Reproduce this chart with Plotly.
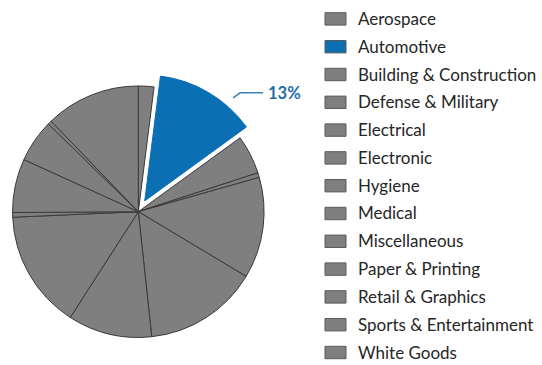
import math
import plotly.graph_objects as go

# Market share by end-use sector (%)
labels = [
    "Aerospace", "Automotive", "Building & Construction", "Defense & Military",
    "Electrical", "Electronic", "Hygiene", "Medical", "Miscellaneous",
    "Paper & Printing", "Retail & Graphics", "Sports & Entertainment", "White Goods",
]
shares = [2.0, 13.0, 5.0, 0.6, 13.0, 14.7, 10.8, 15.2, 0.6, 6.9, 5.5, 0.5, 12.2]
highlight = "Automotive"

W, H = 542, 365
GRAY = "#7f7f7f"
BLUE = "#0a6fb3"
EDGE = "#3a3a3a"
PULL = 0.1

colors = [BLUE if lab == highlight else GRAY for lab in labels]
edges = [BLUE if lab == highlight else EDGE for lab in labels]
pulls = [PULL if lab == highlight else 0 for lab in labels]

dom_x = [0.0, 0.5104]
dom_y = [0.041, 0.799]

fig = go.Figure(go.Pie(
    labels=labels,
    values=shares,
    sort=False,
    direction="clockwise",
    rotation=0,
    pull=pulls,
    marker=dict(colors=colors, line=dict(color=edges, width=1)),
    textinfo="none",
    hoverinfo="label+percent",
    showlegend=False,
    domain=dict(x=dom_x, y=dom_y),
))

# pie geometry in pixels (same rule plotly uses to size the pie)
cx = W * (dom_x[0] + dom_x[1]) / 2
cy = H * (1 - (dom_y[0] + dom_y[1]) / 2)
r = min(W * (dom_x[1] - dom_x[0]), H * (dom_y[1] - dom_y[0])) / 2 / (1 + PULL)

total = sum(shares)
k = labels.index(highlight)
before = sum(shares[:k])
mid = math.radians(360 * (before + shares[k] / 2) / total)
scx = cx + PULL * r * math.sin(mid)
scy = cy - PULL * r * math.cos(mid)
a = mid + math.radians(10)
x0 = scx + 1.08 * r * math.sin(a)
y0 = scy - 1.08 * r * math.cos(a)
x1, y1 = x0 + 7, y0 - 5
x2 = x1 + 23


def px(x):
    return x / W


def py(y):
    return 1 - y / H


shapes = [dict(
    type="path", xref="paper", yref="paper",
    path=f"M {px(x0)} {py(y0)} L {px(x1)} {py(y1)} L {px(x2)} {py(y1)}",
    line=dict(color="#3d82ad", width=1.5),
)]
annotations = [dict(
    x=px(x2 + 3), y=py(y1), xref="paper", yref="paper",
    xanchor="left", yanchor="middle", showarrow=False,
    text=f"<b>{round(100 * shares[k] / total)}%</b>",
    font=dict(family="Lato", size=16.5, color="#1f6ea6"),
)]

# legend: swatch + label per sector
LX0, LX1 = 325, 346
LTOP, LSTEP, LSW = 12.7, 27.8, 12.4
for i, lab in enumerate(labels):
    yt = LTOP + i * LSTEP
    shapes.append(dict(
        type="rect", xref="paper", yref="paper",
        x0=px(LX0), x1=px(LX1), y0=py(yt + LSW), y1=py(yt),
        fillcolor=colors[i], line=dict(color="#5a5a5a", width=1),
    ))
    annotations.append(dict(
        x=px(356), y=py(yt + LSW / 2 - 0.5), xref="paper", yref="paper",
        xanchor="left", yanchor="middle", showarrow=False,
        text=lab, font=dict(family="Lato", size=17, color="#262626"),
    ))

fig.update_layout(
    width=W, height=H,
    margin=dict(l=0, r=0, t=0, b=0),
    paper_bgcolor="white", plot_bgcolor="white",
    shapes=shapes, annotations=annotations,
)

fig.write_html("out.html")
